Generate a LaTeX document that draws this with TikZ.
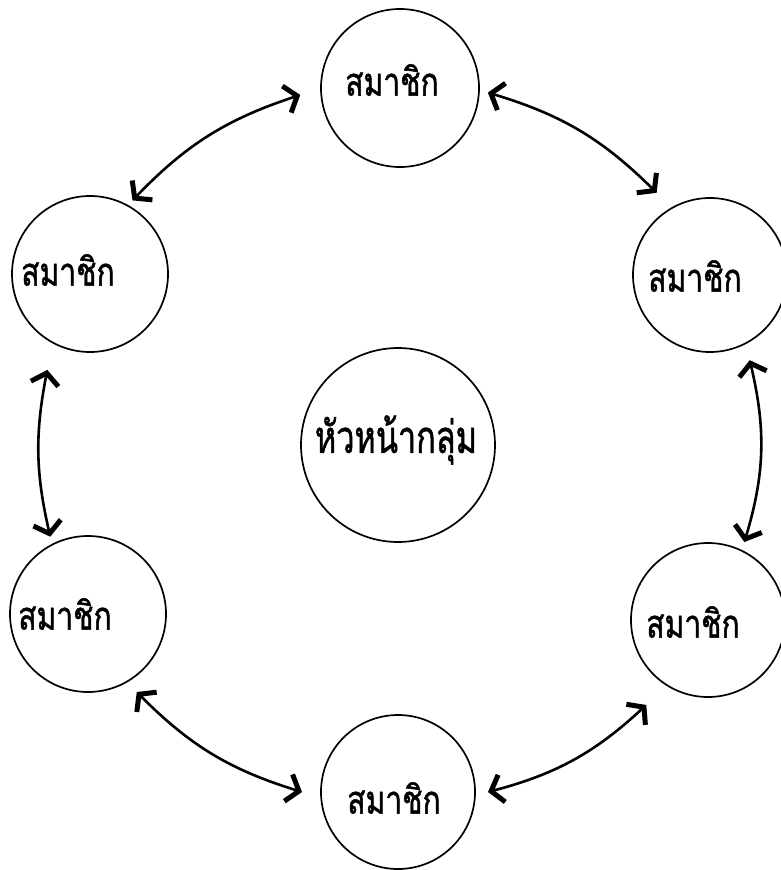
\documentclass[tikz,border=0pt]{standalone}
\usepackage{graphicx}
\usepackage{fontspec}
\newfontfamily\thaifont[Script=Thai,FakeBold=1.4]{Loma}
\usetikzlibrary{arrows.meta,calc}
\newcommand{\mtext}[1]{\scalebox{1}[1.3]{#1}}
\tikzset{
  member/.style={circle,draw,line width=1.7pt,inner sep=0pt,minimum size=#1},
  lbl/.style={font=\thaifont\fontsize{30}{34}\selectfont,inner sep=0pt},
  arr/.style={line width=2.6pt,{Straight Barb[length=11pt,width=28pt,line width=5pt]}-{Straight Barb[length=11pt,width=28pt,line width=5pt]}}
}
\begin{document}
\begin{tikzpicture}[x=1pt,y=1pt]
\useasboundingbox (0,0) rectangle (781,-870);
\node[member=158pt] (top) at (400,-88) {};
\node[member=156pt] (ul) at (90,-274) {};
\node[member=154pt] (ur) at (710,-275) {};
\node[member=194pt] (mid) at (398,-445) {};
\node[member=156pt] (ll) at (88,-614) {};
\node[member=154pt] (lr) at (708,-620) {};
\node[member=154pt] (bot) at (398,-792) {};
\node[lbl] (ttop) at (392,-80) {\mtext{สมาชิก}};
\node[lbl] (tul) at (68,-270) {\mtext{สมาชิก}};
\node[lbl] (tur) at (695,-276) {\mtext{สมาชิก}};
\node[lbl] (tll) at (65,-614) {\mtext{สมาชิก}};
\node[lbl] (tlr) at (693,-622) {\mtext{สมาชิก}};
\node[lbl] (tbot) at (394,-798) {\mtext{สมาชิก}};
\node[lbl] (tmid) at (396,-440) {\scalebox{1.08}[1.5]{หัวหน้ากลุ่ม}};
\draw[arr] ($(top)+(184:100pt)$) to[bend right=14] ($(ul)+(60:85pt)$);
\draw[arr] ($(top)+(-3:88pt)$) to[bend left=14] ($(ur)+(123:98pt)$);
\draw[arr] ($(ul)+(246:105pt)$) to[bend right=12] ($(ll)+(116:86pt)$);
\draw[arr] ($(ur)+(-65:94pt)$) to[bend left=15] ($(lr)+(65:86pt)$);
\draw[arr] ($(ll)+(-58:92pt)$) to[bend right=14] ($(bot)+(180:96pt)$);
\draw[arr] ($(bot)+(0:90pt)$) to[bend right=14] ($(lr)+(234:105pt)$);
\end{tikzpicture}
\end{document}
